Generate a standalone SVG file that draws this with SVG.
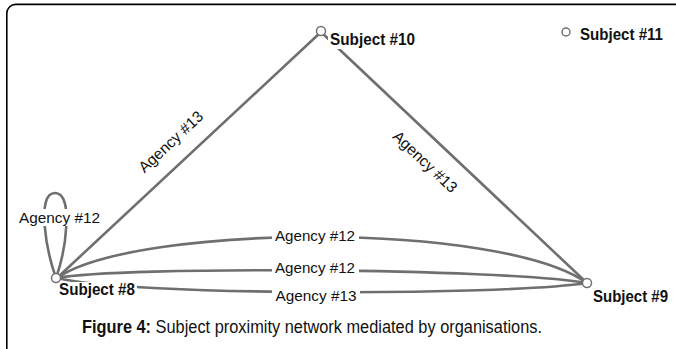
<svg xmlns="http://www.w3.org/2000/svg" width="676" height="349" viewBox="0 0 676 349">
<style>
.edge{fill:none;stroke:#6f6f6f;stroke-width:2.6}
.node{fill:#fff;stroke:#707070;stroke-width:1.5}
.nlabel{font-family:"Liberation Sans",Arial,sans-serif;font-weight:bold;font-size:16px;fill:#111}
.elabel{font-family:"Liberation Sans",Arial,sans-serif;font-size:15.5px;fill:#111}
.bg{fill:#fff}
.cap{font-family:"Liberation Sans",Arial,sans-serif;font-size:17.5px;fill:#111}
</style>
<rect x="0" y="0" width="676" height="349" fill="#fff"/>
<rect x="6.8" y="4.4" width="700" height="380" rx="9" ry="9" fill="none" stroke="#000" stroke-width="1.6"/>
<g id="connectors">
  <path class="edge" d="M57,278 L321,32"/>
  <path class="edge" d="M321,32 L587,283"/>
  <path class="edge" d="M56,278 C46,250 36,193 55,193 C74,193 66,250 56,278"/>
  <path class="edge" d="M57,278 C135,224 500,221 587,283"/>
  <path class="edge" d="M57,278 C120,266 500,268 587,283"/>
  <path class="edge" d="M57,278 C130,296 500,296 587,283"/>
  <g id="edge-labels">
    <rect class="bg" x="16" y="209" width="87" height="17"/>
    <text class="elabel" x="59.5" y="223" text-anchor="middle" textLength="81" lengthAdjust="spacingAndGlyphs">Agency #12</text>
    <rect class="bg" x="272" y="228" width="87" height="17"/>
    <text class="elabel" x="315" y="241" text-anchor="middle" textLength="80" lengthAdjust="spacingAndGlyphs">Agency #12</text>
    <rect class="bg" x="272" y="260" width="87" height="17"/>
    <text class="elabel" x="315" y="272.5" text-anchor="middle" textLength="80" lengthAdjust="spacingAndGlyphs">Agency #12</text>
    <rect class="bg" x="272" y="288" width="88" height="17"/>
    <text class="elabel" x="316" y="300.5" text-anchor="middle" textLength="81" lengthAdjust="spacingAndGlyphs">Agency #13</text>
    <text class="elabel" transform="translate(171,142) rotate(-43)" x="0" y="5" text-anchor="middle">Agency #13</text>
    <text class="elabel" transform="translate(425,162) rotate(43.5)" x="0" y="5" text-anchor="middle">Agency #13</text>
  </g>
</g>
<g id="subject10">
  <rect class="bg" x="328" y="32" width="90" height="17"/>
  <circle class="node" cx="321" cy="31" r="4.5"/>
  <text class="nlabel" x="330" y="45" textLength="85" lengthAdjust="spacingAndGlyphs">Subject #10</text>
</g>
<g id="subject11">
  <circle class="node" cx="566" cy="32" r="4"/>
  <text class="nlabel" x="580" y="39.5" textLength="83" lengthAdjust="spacingAndGlyphs">Subject #11</text>
</g>
<g id="subject8">
  <rect class="bg" x="58" y="282" width="79" height="16"/>
  <circle class="node" cx="56" cy="278" r="4.5"/>
  <text class="nlabel" x="59" y="294.5" textLength="76" lengthAdjust="spacingAndGlyphs">Subject #8</text>
</g>
<g id="subject9">
  <circle class="node" cx="587" cy="283" r="4.5"/>
  <text class="nlabel" x="593" y="301.5" textLength="75" lengthAdjust="spacingAndGlyphs">Subject #9</text>
</g>
<text class="cap" x="82" y="332.5" textLength="460" lengthAdjust="spacingAndGlyphs"><tspan font-weight="bold">Figure 4:</tspan> Subject proximity network mediated by organisations.</text>
</svg>
